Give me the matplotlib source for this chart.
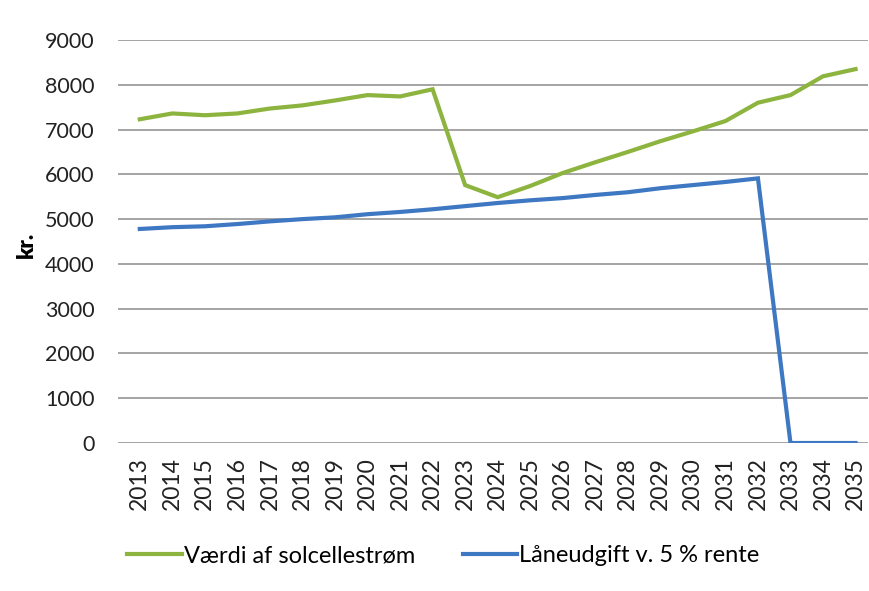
import matplotlib.pyplot as plt
import numpy as np

plt.rcParams['font.family'] = ['Lato', 'DejaVu Sans']

years = [str(y) for y in range(2013, 2036)]
vaerdi = [7230, 7360, 7320, 7360, 7470, 7540, 7650, 7770, 7740, 7900,
          5760, 5490, 5740, 6030, 6270, 6500, 6740, 6960, 7190, 7600,
          7770, 8190, 8350]
laan = [4780, 4820, 4840, 4890, 4950, 5000, 5040, 5110, 5160, 5220,
        5290, 5360, 5420, 5470, 5540, 5600, 5690, 5760, 5830, 5910,
        0, 0, 0]
yticks = list(range(0, 10000, 1000))

fig = plt.figure(figsize=(8.7, 5.91), dpi=100)
ax = fig.add_axes([0.1356, 0.2504, 0.862, 0.6819])

x = np.arange(len(years))
ax.plot(x, vaerdi, color='#8CB43F', lw=3, label='Værdi af solcellestrøm',
        solid_joinstyle='miter')
ax.plot(x, laan, color='#3E78C2', lw=3, label='Låneudgift v. 5 % rente',
        solid_joinstyle='miter')

ax.set_ylim(0, 9000)
ax.set_xlim(-0.67, 22.38)
ax.set_yticks(yticks)
ax.set_xticks(x)
ax.set_xticklabels(years, rotation=90, fontsize=16.5)
ax.tick_params(axis='both', length=0, colors='#222222')
ax.tick_params(axis='y', pad=17, labelsize=15.5)
ax.tick_params(axis='x', pad=10)
ax.yaxis.grid(True, color='#8c8c8c', lw=1.1)
ax.set_axisbelow(True)
for s in ax.spines.values():
    s.set_visible(False)

fig.text(0.03, 0.585, 'kr.', rotation=90, fontsize=16, fontweight='heavy',
         ha='center', va='center')

ax.legend(loc='upper left', bbox_to_anchor=(0.0, -0.23), ncol=2, frameon=False,
          fontsize=17, handlelength=2.3, handletextpad=0.1, columnspacing=2.0,
          borderaxespad=0)

plt.savefig('out.png', dpi=100)
